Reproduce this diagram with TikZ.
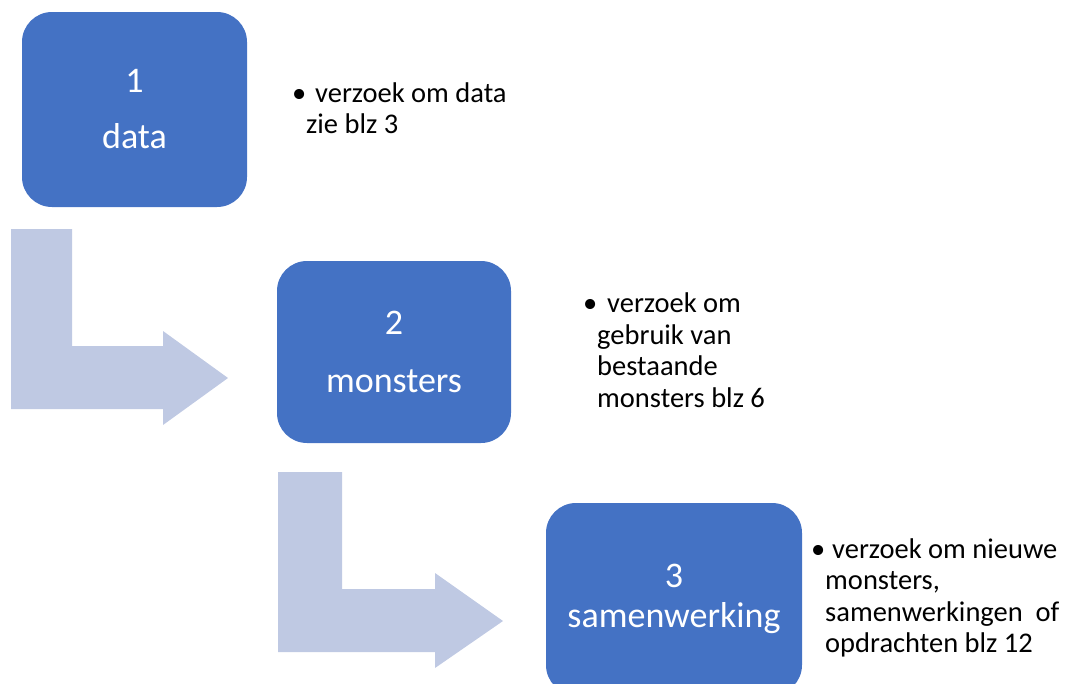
\documentclass[tikz,border=0pt]{standalone}
\usepackage{fontspec}
\setmainfont{Carlito}
\definecolor{boxblue}{RGB}{68,114,196}
\definecolor{arrowblue}{RGB}{191,201,227}
\tikzset{
  stepbox/.style={fill=boxblue, draw=none, rounded corners=30pt, text=white, align=center, inner sep=0pt},
  bullettext/.style={anchor=base west, align=left, inner sep=0pt, text=black,
     font=\fontsize{28.5}{31.5}\selectfont},
  bendarrow/.style={fill=arrowblue, draw=none}
}
\begin{document}
\begin{tikzpicture}[x=1pt,y=-1pt]
\useasboundingbox (0,0) rectangle (1081,683);
\begin{scope}
\clip (0,0) rectangle (1081,683);
% arrows
\fill[bendarrow] (11,229) -- (72,229) -- (72,346) -- (163,346) -- (163,331) -- (228,378) -- (163,425) -- (163,409) -- (11,409) -- cycle;
\fill[bendarrow] (278,472) -- (342,472) -- (342,589) -- (435,589) -- (435,573) -- (503,621) -- (435,668) -- (435,652) -- (278,652) -- cycle;
% boxes
\node[stepbox, minimum width=225pt, minimum height=195pt, font=\fontsize{36}{56}\selectfont] (box1) at (134.5,109.5) {1\\data};
\node[stepbox, minimum width=234pt, minimum height=182pt, font=\fontsize{36}{58}\selectfont] (box2) at (394,352) {2\\monsters};
\node[stepbox, minimum width=256pt, minimum height=192pt, font=\fontsize{36}{40}\selectfont] (box3) at (674,599) {3\\samenwerking};
\end{scope}
% bullet texts (anchored at the baseline of their last line)
\node[bullettext] (t1) at (306,133.5) {\llap{•}\hspace{9pt}verzoek om data\\zie blz 3};
\node[bullettext] (t2) at (597,407) {\llap{•}\hspace{10pt}verzoek om\\gebruik van\\bestaande\\monsters blz 6};
\node[bullettext] (t3) at (825,652.5) {\llap{•}\hspace{7pt}verzoek om nieuwe\\monsters,\\samenwerkingen\ \ of\\opdrachten blz 12};
\end{tikzpicture}
\end{document}
